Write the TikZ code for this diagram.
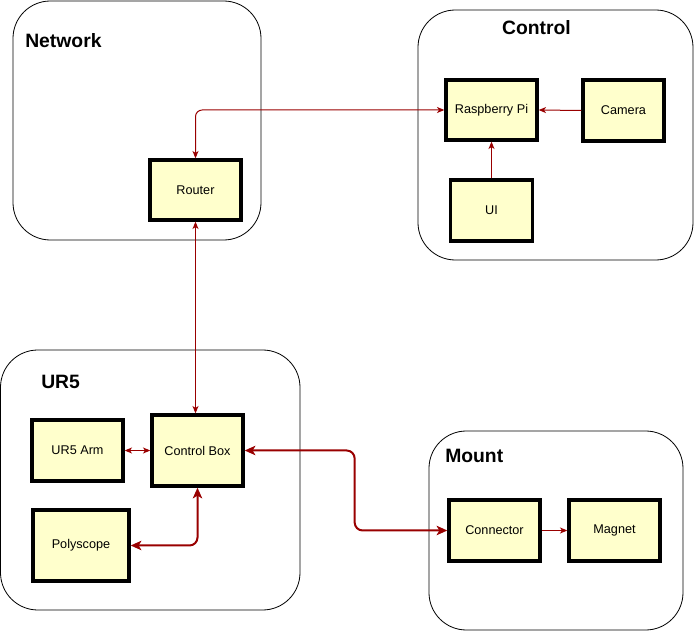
\documentclass[tikz,border=0pt]{standalone}
\usepackage{fontspec}
\setmainfont{Liberation Sans}
\usetikzlibrary{arrows.meta}
\definecolor{myred}{RGB}{153, 0, 0}
\definecolor{myyellow}{RGB}{255, 255, 204}

\begin{document}
\begin{tikzpicture}[
    x = 0.75pt, y = -0.75pt,
    grp/.style = {draw, line width = 0.6pt, rounded corners = 28pt},
    blk/.style = {draw, line width = 2.5pt, fill = myyellow, inner sep = 0pt, font = \fontsize{9.5}{11}\selectfont},
    ttl/.style = {inner sep = 0pt, font = \fontsize{14.5}{17}\selectfont\bfseries},
    l0/.style = {myred, line width = 0.75pt, rounded corners = 5pt, -{Stealth[length = 5.5pt, width = 4.5pt, inset = 1.5pt]}},
    l1/.style = {myred, line width = 0.75pt, rounded corners = 5pt, {Stealth[length = 5.5pt, width = 4.5pt, inset = 1.5pt]}-{Stealth[length = 5.5pt, width = 4.5pt, inset = 1.5pt]}},
    l2/.style = {myred, line width = 1.5pt, rounded corners = 6pt, {Stealth[length = 8pt, width = 7pt, inset = 2pt]}-{Stealth[length = 8pt, width = 7pt, inset = 2pt]}}
]
\useasboundingbox (0,0) rectangle (694,631);

% groups
\draw[grp] (13,1) rectangle (261,240);
\draw[grp] (418,10) rectangle (693,260);
\draw[grp] (0.5,350) rectangle (300,610);
\draw[grp] (429,431) rectangle (683,630);
\node[ttl, anchor = west] (tnet) at (25,41) {Network};
\node[ttl] (tctl) at (536.5,28) {Control};
\node[ttl, anchor = west] (tur) at (41,382) {UR5};
\node[ttl, anchor = west] (tmnt) at (445,456) {Mount};

% blocks
\node[blk, minimum width = 68.25pt, minimum height = 45pt] (router) at (195.5,190) {Router};
\node[blk, minimum width = 68.25pt, minimum height = 45pt] (rpi) at (491.5,110) {Raspberry Pi};
\node[blk, minimum width = 60.75pt, minimum height = 45.75pt] (camera) at (623.5,110.5) {Camera};
\node[blk, minimum width = 61.5pt, minimum height = 45.75pt] (ui) at (491.5,210.5) {UI};
\node[blk, minimum width = 68.25pt, minimum height = 45.75pt] (arm) at (77.5,450.5) {UR5 Arm};
\node[blk, minimum width = 68.25pt, minimum height = 53.25pt] (cbox) at (197.5,450.5) {Control Box};
\node[blk, minimum width = 72pt, minimum height = 53.25pt] (poly) at (81,545.5) {Polyscope};
\node[blk, minimum width = 68.25pt, minimum height = 45.75pt] (conn) at (494.5,530.5) {Connector};
\node[blk, minimum width = 68.25pt, minimum height = 45.75pt] (magnet) at (614.5,530.5) {Magnet};

% links
\draw[l1] (router.north) |- (rpi.west);
\draw[l1] (router.south) -- (router.south |- cbox.north);
\draw[l0] (camera.west) -- (rpi.east);
\draw[l0] (ui.north) -- (rpi.south);
\draw[l1] (arm.east) -- (cbox.west);
\draw[l2] (cbox.south) |- (poly.east);
\draw[l2] (cbox.east) -- ++(110,0) |- (conn.west);
\draw[l0] (conn.east) -- (magnet.west);
\end{tikzpicture}
\end{document}
